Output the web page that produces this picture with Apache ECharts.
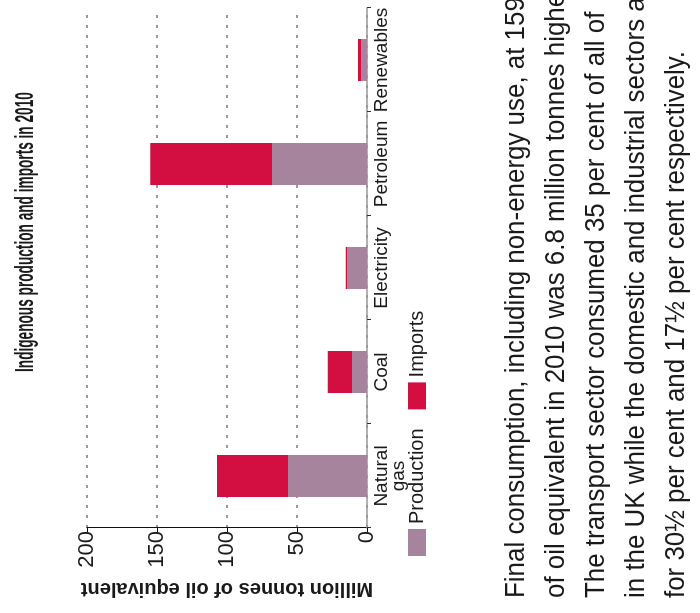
<!DOCTYPE html>
<html>
<head>
<meta charset="utf-8">
<script src="https://cdn.jsdelivr.net/npm/echarts@6/dist/echarts.min.js"></script>
<style>
html,body{margin:0;padding:0;background:#fff;overflow:hidden;width:700px;height:613px;}
#rot{position:absolute;left:0;top:0;width:613px;height:700px;transform-origin:0 0;transform:translate(0px,613px) rotate(-90deg);}
#chart{width:613px;height:700px;}
</style>
</head>
<body>
<div id="rot"><div id="chart"></div></div>
<script>
const titleText = "Indigenous production and imports in 2010";
const categories = ["Natural\ngas", "Coal", "Electricity", "Petroleum", "Renewables"];
const production = [56.5, 10.7, 14.3, 67.9, 4.1];
const imports = [50.6, 17.4, 0.8, 86.9, 2.4];
const valueTicks = [0, 50, 100, 150, 200];
const axisName = "Million tonnes of oil equivalent";
const seriesNames = ["Production", "Imports"];
const paragraph = [
  "Final consumption, including non-energy use, at 159",
  "of oil equivalent in 2010 was 6.8 million tonnes higher",
  "The transport sector consumed 35 per cent of all of",
  "in the UK while the domestic and industrial sectors accounted",
  "for 30½ per cent and 17½ per cent respectively."
];

const FONT = "'Liberation Sans',Arial,sans-serif";
const chart = echarts.init(document.getElementById('chart'), null, {renderer: 'canvas'});
chart.setOption({
  animation: false,
  backgroundColor: '#fff',
  textStyle: {fontFamily: FONT},
  legend: {
    left: 57, top: 407, padding: 0,
    itemWidth: 27, itemHeight: 18, itemGap: 19,
    icon: 'rect',
    textStyle: {fontFamily: FONT, fontSize: 20, color: '#1a1a1a'},
    data: seriesNames
  },
  grid: {left: 85, right: 8, top: 87, bottom: 333},
  xAxis: {
    type: 'category',
    data: categories,
    axisLine: {lineStyle: {color: '#999', width: 1.5}},
    axisTick: {show: true, length: 4, lineStyle: {color: '#333'}},
    axisLabel: {interval: 0, margin: 6, fontSize: 19, color: '#1a1a1a', lineHeight: 17, fontFamily: FONT}
  },
  yAxis: {
    type: 'value',
    min: valueTicks[0], max: valueTicks[valueTicks.length - 1], interval: 50,
    name: axisName,
    nameLocation: 'middle',
    nameGap: 50,
    nameTextStyle: {fontSize: 20, fontWeight: 'bold', color: '#1a1a1a', fontFamily: FONT},
    axisLine: {show: true, lineStyle: {color: '#111', width: 1}},
    axisTick: {show: true, length: 4, lineStyle: {color: '#111'}},
    axisLabel: {margin: 3, fontSize: 22, color: '#1a1a1a', fontFamily: FONT},
    splitLine: {show: true, lineStyle: {color: '#777', width: 1.5, type: [3, 7]}}
  },
  series: [
    {name: seriesNames[0], type: 'bar', stack: 'total', data: production, barWidth: 42,
     itemStyle: {color: '#a6849e'}},
    {name: seriesNames[1], type: 'bar', stack: 'total', data: imports, barWidth: 42,
     itemStyle: {color: '#d20f40'}}
  ],
  graphic: [
    {
      type: 'text', x: 241, y: 13, scaleX: 0.525,
      style: {text: titleText, fontSize: 26, fontWeight: 'bold', fontFamily: FONT, fill: '#1a1a1a', verticalAlign: 'top'}
    }
  ].concat(paragraph.map((line, i) => ({
    type: 'text',
    x: 15,
    y: 503 + i * 40,
    scaleX: 0.96,
    style: {text: line, fontSize: 27, fontFamily: FONT, fill: '#1a1a1a', verticalAlign: 'top'}
  })))
});
</script>
</body>
</html>
